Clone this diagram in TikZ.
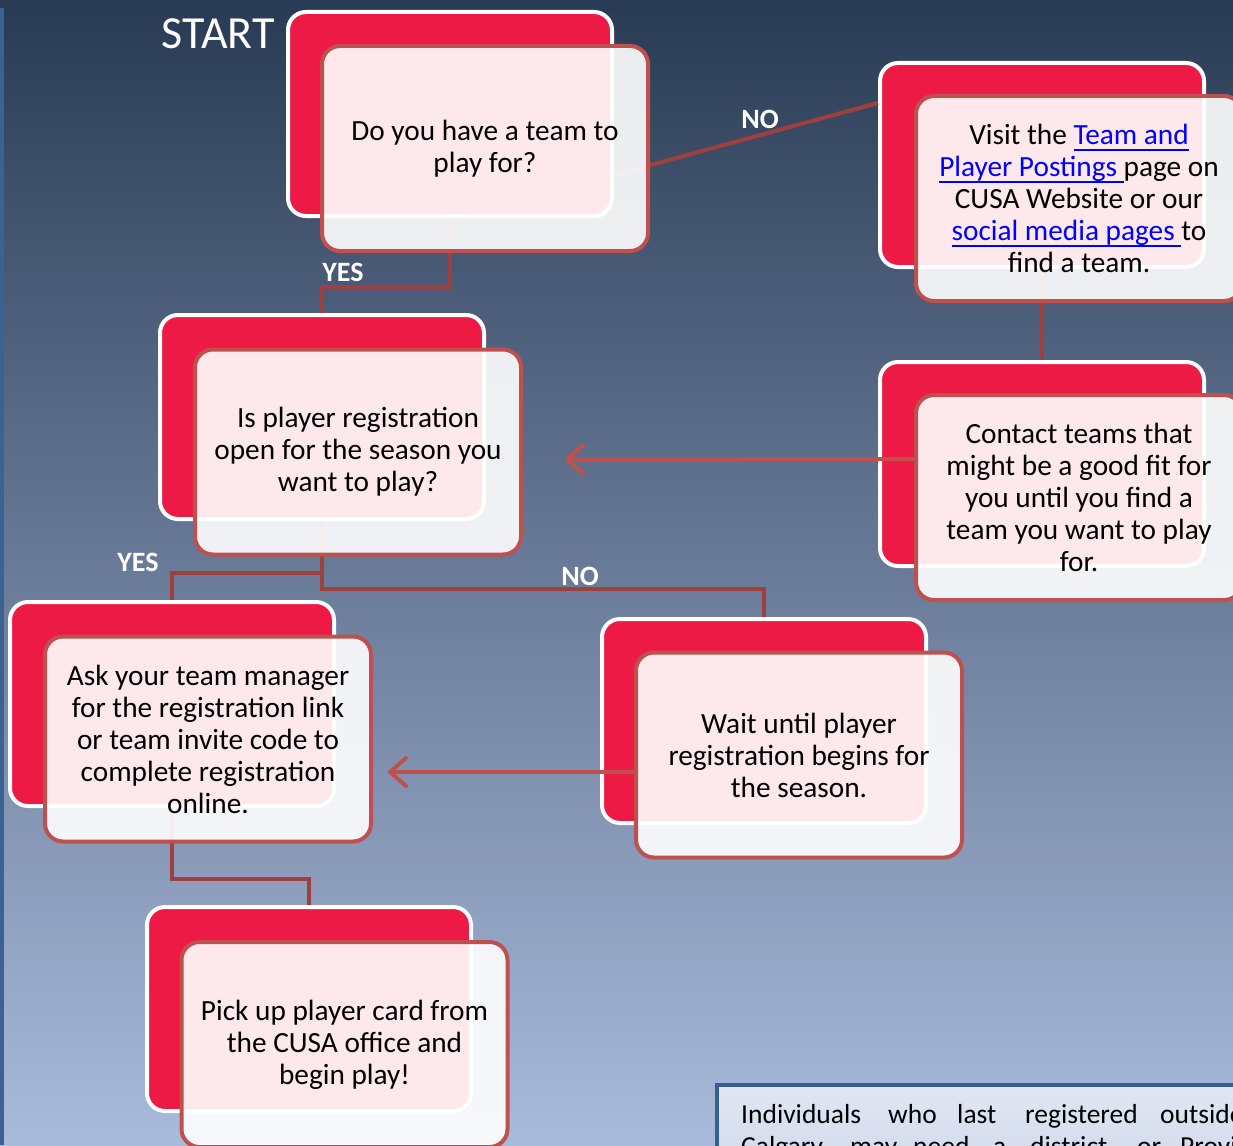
\documentclass[tikz,border=0pt]{standalone}
\usepackage{fontspec}
\setmainfont{Carlito}
\usetikzlibrary{arrows.meta}
\definecolor{bgtop}{HTML}{293B54}
\definecolor{bgbot}{HTML}{A9BBDB}
\definecolor{cardred}{HTML}{ED1A45}
\definecolor{cardedge}{HTML}{C0504D}
\definecolor{linkblue}{HTML}{0000FF}
\definecolor{elbowcol}{HTML}{A0403E}
\definecolor{noteedge}{HTML}{3A5F8F}
\definecolor{notetop}{HTML}{E0E6F3}
\definecolor{notebot}{HTML}{C8D3E8}
\definecolor{stripe}{HTML}{3D6190}
\newcommand\lnk[1]{{\color{linkblue}\setbox0\hbox{#1}\rlap{\rule[-6pt]{\wd0}{1.8pt}}\box0}}
\pgfdeclarelayer{bg}
\pgfdeclarelayer{mid}
\pgfsetlayers{bg,mid,main}
\begin{document}
\begin{tikzpicture}[x=1pt,y=-1pt,
  backcard/.style={draw=white, fill=cardred, line width=4pt, rounded corners=18pt,
    minimum width=324pt, minimum height=204pt, inner sep=0pt},
  frontcard/.style={draw=cardedge, fill=white, fill opacity=0.9, text opacity=1,
    line width=4pt, rounded corners=18pt, minimum width=326pt, minimum height=205pt,
    align=center, inner sep=0pt, font=\fontsize{29.3}{32}\selectfont},
  elbow/.style={draw=elbowcol, line width=4pt},
  arr/.style={draw=cardedge, line width=4pt, line cap=round,
    -{Straight Barb[length=16pt,width=28pt,round]}},
  lbl/.style={text=white, font=\fontsize{28}{30}\selectfont\bfseries, inner sep=0pt},
  noteword/.style={anchor=base west, inner sep=0pt, font=\fontsize{27.5}{32}\selectfont}
]
\useasboundingbox (0,0) rectangle (1233,1145);
\clip (0,0) rectangle (1233,1145);
\begin{pgfonlayer}{bg}
\fill[top color=bgtop, bottom color=bgbot] (0,0) rectangle (1233,1145);
\fill[stripe] (0,8) rectangle (4,1145);
\node[backcard] (b1b) at (450,114) {};
\node[backcard] (b2b) at (1042,165) {};
\node[backcard] (b3b) at (322,417) {};
\node[backcard] (b4b) at (1042,464) {};
\node[backcard] (b5b) at (172,704) {};
\node[backcard] (b6b) at (764,721) {};
\node[backcard] (b7b) at (309,1009) {};
\end{pgfonlayer}

\node[frontcard] (b1) at (485,148.5) {Do you have a team to\\play for?};
\node[frontcard] (b2) at (1079,198.5) {Visit the \lnk{Team and}\\\lnk{Player Postings\ }page on\\CUSA Website or our\\\lnk{social media pages\ }to\\find a team.};
\node[frontcard] (b3) at (358,452) {Is player registration\\open for the season you\\want to play?};
\node[frontcard] (b4) at (1079,497.5) {Contact teams that\\might be a good fit for\\you until you find a\\team you want to play\\for.};
\node[frontcard] (b5) at (208,739) {Ask your team manager\\for the registration link\\or team invite code to\\complete registration\\online.};
\node[frontcard] (b6) at (799,755) {Wait until player\\registration begins for\\the season.};
\node[frontcard] (b7) at (344.5,1044.5) {Pick up player card from\\the CUSA office and\\begin play!};

\node[text=white, inner sep=0pt, font=\fontsize{46}{50}\selectfont] (start) at (218,34) {START};
\node[lbl] (yes1) at (343,272) {YES};
\node[lbl] (no1) at (760,119) {NO};
\node[lbl] (yes2) at (138,562) {YES};
\node[lbl] (no2) at (580,576) {NO};

\node[draw=noteedge, line width=4pt, top color=notetop, bottom color=notebot,
  anchor=north west, minimum width=600pt, minimum height=140pt, inner sep=0pt] (note) at (715,1083) {};
\node[noteword] (w1) at (741,1123) {Individuals};
\node[noteword] (w2) at (888,1123) {who};
\node[noteword] (w3) at (957,1123) {last};
\node[noteword] (w4) at (1025,1123) {registered};
\node[noteword] (w5) at (1160,1123) {outside};
\node[noteword] (w6) at (741,1155) {Calgary};
\node[noteword] (w7) at (850,1155) {may};
\node[noteword] (w8) at (913,1155) {need};
\node[noteword] (w9) at (993,1155) {a};
\node[noteword] (w10) at (1030,1155) {district};
\node[noteword] (w11) at (1137,1155) {or};
\node[noteword] (w12) at (1180,1155) {Provincial};

\coordinate (a1) at (565,459.5);
\coordinate (a2) at (388,772);
\begin{pgfonlayer}{mid}
\draw[elbow] ([yshift=-61pt]b1b.east) -- ([yshift=62pt]b2b.west);
\draw[elbow] (b1b.south) -- ++(0,69) -| (b3b.north);
\draw[elbow] (b2b.south) -- (b4b.north);
\draw[elbow] (b3b.south) -- ++(0,52) -| (b5b.north);
\draw[elbow] (b3b.south) -- ++(0,68) -| (b6b.north);
\draw[elbow] (b5b.south) -- ++(0,71) -| (b7b.north);
\draw[arr] ([yshift=5pt]b4.west |- b4b.center) -- (a1);
\draw[arr] ([yshift=-17pt]b6.west) -- (a2);
\end{pgfonlayer}
\end{tikzpicture}
\end{document}
